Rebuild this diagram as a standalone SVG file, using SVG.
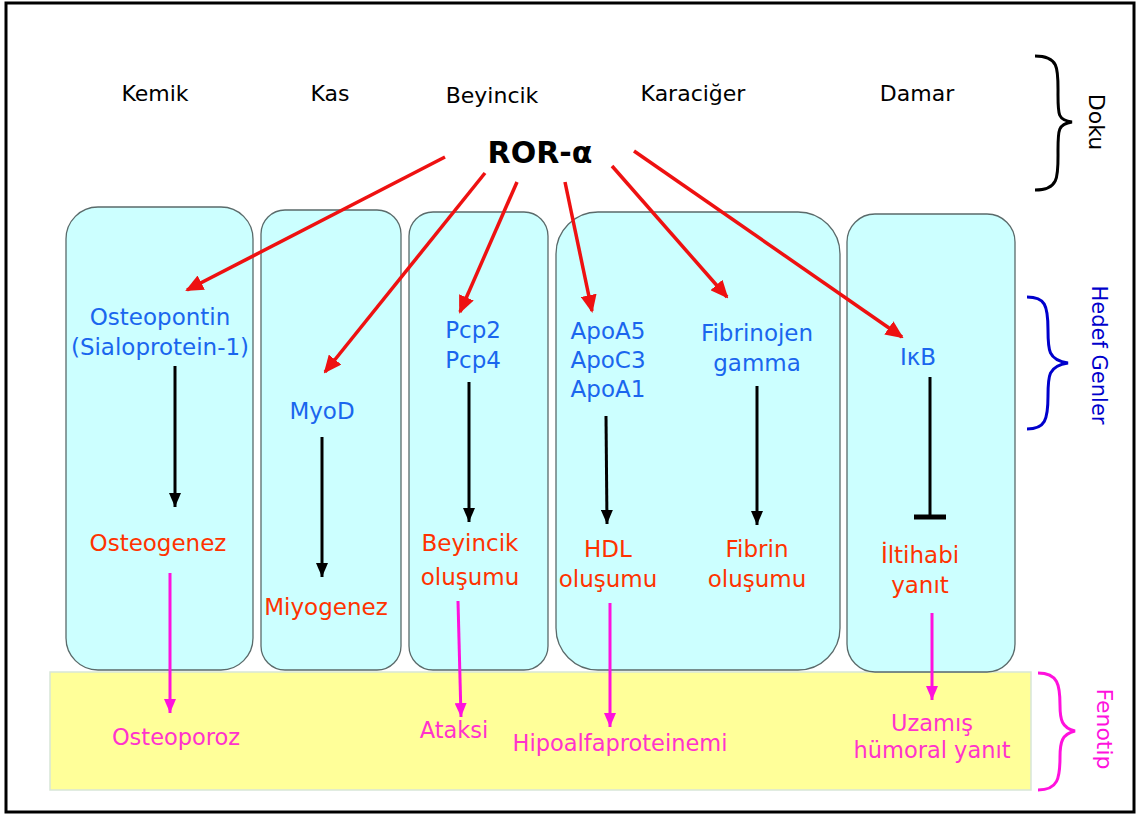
<svg xmlns="http://www.w3.org/2000/svg" width="1140" height="816" viewBox="0 0 1140 816">
<style>
text{font-family:"DejaVu Sans","Noto Sans",sans-serif;text-anchor:middle}
.tis{font-size:22px;fill:#000}
.gene{font-size:23px;fill:#1a66ee}
.proc{font-size:23px;fill:#ff3300}
.phen{font-size:22.5px;fill:#ff33cc}
.box{fill:#ccffff;stroke:#5a6a6a;stroke-width:1.3}
.red{stroke:#ee1111;stroke-width:3.5;fill:none}
.blk{stroke:#000;stroke-width:3;fill:none}
.mag{stroke:#ff11dd;stroke-width:3;fill:none}
.brace{fill:none;stroke-width:3}
</style>
<defs>
<marker id="ar" markerUnits="userSpaceOnUse" markerWidth="18" markerHeight="16" refX="16" refY="8" orient="auto"><path d="M0,0 L18,8 L0,16 Z" fill="#ee1111"/></marker>
<marker id="ab" markerUnits="userSpaceOnUse" markerWidth="14" markerHeight="12" refX="14" refY="6" orient="auto"><path d="M0,0 L14,6 L0,12 Z" fill="#000"/></marker>
<marker id="am" markerUnits="userSpaceOnUse" markerWidth="14" markerHeight="12" refX="14" refY="6" orient="auto"><path d="M0,0 L14,6 L0,12 Z" fill="#ff11dd"/></marker>
</defs>
<rect x="0" y="0" width="1140" height="816" fill="#fff"/>
<rect x="6" y="3" width="1128" height="809" fill="none" stroke="#000" stroke-width="3"/>

<g id="phenotype-band"><rect x="50" y="672" width="981" height="118" fill="#ffff99" stroke="#d8e6d8" stroke-width="1.5"/></g>

<g id="box-kemik"><rect class="box" x="66" y="207" width="187" height="463" rx="32"/></g>
<g id="box-kas"><rect class="box" x="261" y="210" width="140" height="460" rx="24"/></g>
<g id="box-beyincik"><rect class="box" x="409" y="212" width="139" height="458" rx="24"/></g>
<g id="box-karaciger"><rect class="box" x="556" y="212" width="284" height="458" rx="42"/></g>
<g id="box-damar"><rect class="box" x="847" y="214" width="168" height="458" rx="28"/></g>

<g id="tissues">
<text class="tis" x="155" y="101">Kemik</text>
<text class="tis" x="330" y="101">Kas</text>
<text class="tis" x="492" y="103">Beyincik</text>
<text class="tis" x="693" y="101">Karaciğer</text>
<text class="tis" x="917" y="101">Damar</text>
</g>
<g id="ror-alpha"><text x="540" y="163" style="font-size:30px;font-weight:bold;fill:#000">ROR-α</text></g>

<g id="doku-label">
<path class="brace" stroke="#000" d="M1035,56 C1060,56 1058,70 1058,95 C1058,115 1058,120 1072,122 C1058,124 1058,130 1058,150 C1058,175 1060,190 1035,190"/>
<text x="1089" y="122" transform="rotate(90 1089 122)" style="font-size:22px;fill:#000">Doku</text>
</g>
<g id="hedef-label">
<path class="brace" stroke="#0000cc" d="M1027,297 C1045,297 1048,305 1048,330 C1048,350 1048,360 1068,363 C1048,366 1048,376 1048,396 C1048,420 1045,429 1027,429"/>
<text x="1092" y="355" transform="rotate(90 1092 355)" style="font-size:21px;fill:#0000cc">Hedef Genler</text>
</g>
<g id="fenotip-label">
<path class="brace" stroke="#ff11dd" d="M1038,673 C1058,673 1060,685 1060,705 C1060,720 1062,728 1075,731 C1062,734 1060,742 1060,757 C1060,778 1058,790 1038,790"/>
<text x="1097" y="729" transform="rotate(90 1097 729)" style="font-size:22px;fill:#ff11dd">Fenotip</text>
</g>

<g id="genes">
<text class="gene" x="160" y="325">Osteopontin</text>
<text class="gene" x="160" y="355">(Sialoprotein-1)</text>
<text class="gene" x="322" y="419">MyoD</text>
<text class="gene" x="473" y="338">Pcp2</text>
<text class="gene" x="473" y="368">Pcp4</text>
<text class="gene" x="608" y="339">ApoA5</text>
<text class="gene" x="608" y="368">ApoC3</text>
<text class="gene" x="608" y="397">ApoA1</text>
<text class="gene" x="757" y="341">Fibrinojen</text>
<text class="gene" x="757" y="371">gamma</text>
<text class="gene" x="918" y="365">IκB</text>
</g>
<g id="processes">
<text class="proc" x="158" y="551">Osteogenez</text>
<text class="proc" x="326" y="615">Miyogenez</text>
<text class="proc" x="470" y="551">Beyincik</text>
<text class="proc" x="470" y="585">oluşumu</text>
<text class="proc" x="608" y="557">HDL</text>
<text class="proc" x="608" y="587">oluşumu</text>
<text class="proc" x="757" y="557">Fibrin</text>
<text class="proc" x="757" y="587">oluşumu</text>
<text class="proc" x="920" y="563">İltihabi</text>
<text class="proc" x="920" y="593">yanıt</text>
</g>
<g id="phenotypes">
<text class="phen" x="176" y="745">Osteoporoz</text>
<text class="phen" x="454" y="738">Ataksi</text>
<text class="phen" x="620" y="751">Hipoalfaproteinemi</text>
<text class="phen" x="932" y="731">Uzamış</text>
<text class="phen" x="932" y="758">hümoral yanıt</text>
</g>

<g id="connectors">
<line class="red" x1="445" y1="157" x2="187" y2="290" marker-end="url(#ar)"/>
<line class="red" x1="485" y1="173" x2="325" y2="372" marker-end="url(#ar)"/>
<line class="red" x1="517" y1="182" x2="460" y2="312" marker-end="url(#ar)"/>
<line class="red" x1="565" y1="182" x2="592" y2="311" marker-end="url(#ar)"/>
<line class="red" x1="612" y1="166" x2="727" y2="297" marker-end="url(#ar)"/>
<line class="red" x1="634" y1="151" x2="902" y2="337" marker-end="url(#ar)"/>

<line class="blk" x1="175" y1="366" x2="175" y2="507" marker-end="url(#ab)"/>
<line class="blk" x1="322" y1="437" x2="322" y2="577" marker-end="url(#ab)"/>
<line class="blk" x1="469" y1="382" x2="469" y2="522" marker-end="url(#ab)"/>
<line class="blk" x1="606" y1="416" x2="607" y2="524" marker-end="url(#ab)"/>
<line class="blk" x1="757" y1="386" x2="757" y2="525" marker-end="url(#ab)"/>
<line class="blk" x1="930" y1="377" x2="930" y2="516"/>
<line x1="914" y1="517" x2="946" y2="517" stroke="#000" stroke-width="5"/>

<line class="mag" x1="170" y1="573" x2="170" y2="713" marker-end="url(#am)"/>
<line class="mag" x1="458" y1="601" x2="461" y2="717" marker-end="url(#am)"/>
<line class="mag" x1="610" y1="603" x2="610" y2="727" marker-end="url(#am)"/>
<line class="mag" x1="932" y1="613" x2="932" y2="700" marker-end="url(#am)"/>
</g>
</svg>
